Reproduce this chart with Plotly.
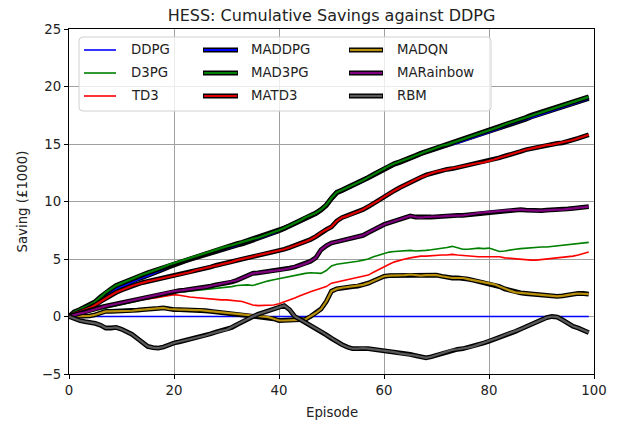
import plotly.graph_objects as go

# ---------------- data ----------------
episodes = list(range(100))
series_names = ["DDPG", "D3PG", "TD3", "MADDPG", "MAD3PG", "MATD3", "MADQN", "MARainbow", "RBM"]

ddpg = [0.0, 0.0, 0.0, 0.0, 0.0, 0.0, 0.0, 0.0, 0.0, 0.0,
        0.0, 0.0, 0.0, 0.0, 0.0, 0.0, 0.0, 0.0, 0.0, 0.0,
        0.0, 0.0, 0.0, 0.0, 0.0, 0.0, 0.0, 0.0, 0.0, 0.0,
        0.0, 0.0, 0.0, 0.0, 0.0, 0.0, 0.0, 0.0, 0.0, 0.0,
        0.0, 0.0, 0.0, 0.0, 0.0, 0.0, 0.0, 0.0, 0.0, 0.0,
        0.0, 0.0, 0.0, 0.0, 0.0, 0.0, 0.0, 0.0, 0.0, 0.0,
        0.0, 0.0, 0.0, 0.0, 0.0, 0.0, 0.0, 0.0, 0.0, 0.0,
        0.0, 0.0, 0.0, 0.0, 0.0, 0.0, 0.0, 0.0, 0.0, 0.0,
        0.0, 0.0, 0.0, 0.0, 0.0, 0.0, 0.0, 0.0, 0.0, 0.0,
        0.0, 0.0, 0.0, 0.0, 0.0, 0.0, 0.0, 0.0, 0.0, 0.0]

d3pg = [0.0, 0.1, 0.2, 0.3, 0.4, 0.5, 0.6, 0.7, 0.8, 0.9,
        1.0, 1.15, 1.25, 1.35, 1.5, 1.6, 1.7, 1.8, 1.9, 2.0,
        2.1, 2.15, 2.15, 2.2, 2.2, 2.25, 2.3, 2.35, 2.45, 2.5,
        2.55, 2.6, 2.7, 2.75, 2.75, 2.7, 2.85, 3.0, 3.1, 3.2,
        3.3, 3.4, 3.5, 3.6, 3.7, 3.75, 3.8, 3.75, 3.75, 4.0,
        4.4, 4.55, 4.6, 4.65, 4.7, 4.8, 4.9, 5.0, 5.2, 5.35,
        5.5, 5.6, 5.65, 5.7, 5.75, 5.75, 5.7, 5.7, 5.75, 5.8,
        5.85, 5.9, 6.0, 6.1, 5.95, 5.85, 5.85, 5.9, 5.95, 5.9,
        5.95, 5.8, 5.65, 5.7, 5.8, 5.85, 5.9, 5.95, 5.95, 6.0,
        6.05, 6.05, 6.1, 6.1, 6.15, 6.2, 6.25, 6.3, 6.4, 6.45]

td3 = [0.0, 0.1, 0.2, 0.3, 0.45, 0.55, 0.7, 0.8, 0.95, 1.05,
       1.15, 1.25, 1.3, 1.4, 1.45, 1.5, 1.6, 1.65, 1.75, 1.8,
       1.9, 1.85, 1.75, 1.7, 1.65, 1.6, 1.55, 1.55, 1.5, 1.45,
       1.45, 1.4, 1.35, 1.3, 1.15, 1.0, 0.95, 0.95, 0.95, 1.0,
       1.1, 1.25, 1.4, 1.6, 1.8, 2.0, 2.15, 2.3, 2.45, 2.6,
       2.9, 3.0, 3.15, 3.25, 3.35, 3.45, 3.5, 3.6, 3.85, 4.1,
       4.35, 4.55, 4.75, 4.9, 5.0, 5.1, 5.2, 5.25, 5.25, 5.3,
       5.3, 5.35, 5.35, 5.4, 5.35, 5.3, 5.3, 5.25, 5.2, 5.2,
       5.2, 5.15, 5.2, 5.1, 5.05, 5.0, 5.0, 4.95, 4.9, 4.9,
       4.95, 5.0, 5.0, 5.05, 5.1, 5.15, 5.25, 5.35, 5.5, 5.6]

maddpg = [0.0, 0.3, 0.5, 0.7, 0.9, 1.1, 1.45, 1.8, 2.1, 2.4,
          2.6, 2.85, 3.05, 3.25, 3.4, 3.55, 3.75, 3.9, 4.1, 4.3,
          4.5, 4.65, 4.8, 4.95, 5.1, 5.25, 5.4, 5.55, 5.65, 5.8,
          5.95, 6.05, 6.2, 6.3, 6.45, 6.6, 6.75, 6.9, 7.05, 7.25,
          7.45, 7.65, 7.85, 8.05, 8.3, 8.55, 8.75, 8.95, 9.25, 9.65,
          10.25, 10.75, 10.95, 11.15, 11.35, 11.55, 11.8, 12.05, 12.3, 12.55,
          12.85, 13.05, 13.25, 13.4, 13.55, 13.75, 13.95, 14.15, 14.3, 14.45,
          14.6, 14.75, 14.85, 15.0, 15.1, 15.25, 15.4, 15.55, 15.75, 15.9,
          16.05, 16.2, 16.35, 16.55, 16.7, 16.85, 17.0, 17.15, 17.35, 17.5,
          17.65, 17.8, 17.95, 18.1, 18.25, 18.35, 18.5, 18.65, 18.8, 18.95]

mad3pg = [0.0, 0.4, 0.6, 0.8, 1.0, 1.3, 1.7, 2.1, 2.4, 2.7,
          2.9, 3.1, 3.3, 3.5, 3.65, 3.8, 3.95, 4.1, 4.3, 4.5,
          4.65, 4.8, 4.9, 5.05, 5.2, 5.35, 5.5, 5.65, 5.8, 5.95,
          6.1, 6.2, 6.35, 6.45, 6.6, 6.75, 6.85, 7.0, 7.15, 7.3,
          7.5, 7.7, 7.9, 8.1, 8.35, 8.6, 8.8, 9.0, 9.3, 9.7,
          10.3, 10.8, 11.0, 11.2, 11.4, 11.6, 11.85, 12.1, 12.35, 12.6,
          12.9, 13.1, 13.3, 13.45, 13.6, 13.8, 14.0, 14.2, 14.35, 14.5,
          14.7, 14.85, 14.95, 15.1, 15.25, 15.4, 15.55, 15.7, 15.9, 16.05,
          16.2, 16.35, 16.5, 16.7, 16.85, 17.0, 17.15, 17.3, 17.5, 17.65,
          17.8, 17.95, 18.1, 18.25, 18.4, 18.5, 18.65, 18.8, 18.95, 19.1]

matd3 = [0.0, 0.25, 0.4, 0.55, 0.75, 1.0, 1.3, 1.6, 1.85, 2.1,
         2.3, 2.5, 2.65, 2.8, 2.95, 3.05, 3.15, 3.25, 3.35, 3.4,
         3.5, 3.6, 3.75, 3.85, 4.0, 4.1, 4.2, 4.3, 4.45, 4.55,
         4.65, 4.75, 4.9, 5.0, 5.1, 5.2, 5.3, 5.4, 5.5, 5.6,
         5.75, 5.85, 6.0, 6.15, 6.3, 6.5, 6.7, 6.95, 7.3, 7.55,
         7.8, 8.3, 8.6, 8.75, 8.9, 9.1, 9.3, 9.55, 9.85, 10.1,
         10.4, 10.7, 10.95, 11.2, 11.45, 11.7, 11.9, 12.1, 12.3, 12.45,
         12.6, 12.7, 12.8, 12.85, 12.95, 13.1, 13.15, 13.25, 13.35, 13.4,
         13.5, 13.65, 13.8, 13.95, 14.05, 14.2, 14.35, 14.5, 14.6, 14.7,
         14.85, 14.9, 14.95, 15.05, 15.1, 15.2, 15.35, 15.5, 15.65, 15.8]

madqn = [0.0, 0.0, 0.0, 0.0, 0.05, 0.15, 0.3, 0.45, 0.45, 0.45,
         0.45, 0.5, 0.5, 0.55, 0.6, 0.6, 0.65, 0.7, 0.75, 0.65,
         0.6, 0.6, 0.6, 0.55, 0.55, 0.55, 0.5, 0.45, 0.4, 0.35,
         0.3, 0.3, 0.2, 0.15, 0.1, 0.05, 0.0, 0.0, -0.05, -0.2,
         -0.35, -0.35, -0.35, -0.35, -0.3, -0.25, 0.0, 0.3, 0.65, 1.3,
         2.2, 2.4, 2.5, 2.55, 2.6, 2.65, 2.75, 2.9, 3.1, 3.3,
         3.5, 3.55, 3.55, 3.6, 3.6, 3.65, 3.6, 3.55, 3.6, 3.6,
         3.6, 3.5, 3.4, 3.35, 3.35, 3.35, 3.25, 3.15, 3.05, 3.0,
         2.9, 2.8, 2.6, 2.4, 2.25, 2.1, 2.05, 2.0, 1.95, 1.95,
         1.9, 1.85, 1.8, 1.75, 1.8, 1.9, 1.95, 2.0, 2.0, 1.95]

marainbow = [0.0, 0.15, 0.25, 0.35, 0.5, 0.65, 0.8, 0.9, 1.0, 1.1,
             1.2, 1.3, 1.45, 1.55, 1.65, 1.75, 1.85, 1.95, 2.05, 2.15,
             2.2, 2.25, 2.3, 2.35, 2.4, 2.45, 2.55, 2.65, 2.75, 2.8,
             2.9, 3.0, 3.15, 3.35, 3.55, 3.75, 3.8, 3.85, 3.9, 3.95,
             4.0, 4.1, 4.2, 4.3, 4.45, 4.6, 4.8, 5.1, 5.8, 6.15,
             6.4, 6.5, 6.6, 6.7, 6.8, 6.9, 7.05, 7.3, 7.55, 7.8,
             8.0, 8.15, 8.3, 8.4, 8.55, 8.75, 8.65, 8.6, 8.65, 8.65,
             8.7, 8.7, 8.75, 8.75, 8.8, 8.8, 8.85, 8.95, 9.0, 9.05,
             9.1, 9.15, 9.2, 9.2, 9.25, 9.25, 9.3, 9.25, 9.2, 9.2,
             9.2, 9.25, 9.25, 9.3, 9.3, 9.35, 9.4, 9.45, 9.5, 9.55]

rbm = [0.0, -0.2, -0.35, -0.45, -0.5, -0.6, -0.75, -1.0, -1.0, -0.95,
       -1.1, -1.3, -1.55, -1.9, -2.25, -2.6, -2.7, -2.75, -2.65, -2.45,
       -2.3, -2.2, -2.1, -2.0, -1.85, -1.75, -1.65, -1.5, -1.35, -1.25,
       -1.15, -0.95, -0.7, -0.45, -0.2, 0.0, 0.2, 0.35, 0.5, 0.6,
       0.75, 0.95, 0.6, 0.0, -0.25, -0.5, -0.75, -1.0, -1.3, -1.6,
       -1.9, -2.2, -2.45, -2.65, -2.8, -2.8, -2.75, -2.8, -2.85, -2.9,
       -2.95, -3.0, -3.1, -3.2, -3.25, -3.3, -3.4, -3.5, -3.6, -3.5,
       -3.35, -3.2, -3.05, -2.9, -2.85, -2.8, -2.7, -2.6, -2.45, -2.3,
       -2.15, -2.0, -1.8, -1.6, -1.45, -1.3, -1.1, -0.9, -0.7, -0.45,
       -0.25, -0.1, 0.0, -0.05, -0.3, -0.6, -0.85, -1.0, -1.2, -1.4]

x_ticks = [0, 20, 40, 60, 80, 100]
y_ticks = [-5, 0, 5, 10, 15, 20, 25]

# ---------------- styles ----------------
all_values = [ddpg, d3pg, td3, maddpg, mad3pg, matd3, madqn, marainbow, rbm]
colors = ["#0000ff", "#008000", "#ff0000", "#0000ff", "#008000", "#e00000",
          "#b8900b", "#800080", "#5a5a5a"]
outlined = [False, False, False, True, True, True, True, True, True]

W, H = 620, 427
ML, MR, MT, MB = 69, 26, 29, 53
PW = W - ML - MR
PH = H - MT - MB
FONT = "DejaVu Sans"


def px2x(px):
    return (px - ML) / PW


def py2y(py):
    return (H - MB - py) / PH


fig = go.Figure()
for name, vals, col, outl in zip(series_names, all_values, colors, outlined):
    if outl:
        fig.add_trace(go.Scatter(x=episodes, y=vals, mode="lines",
                                 line=dict(color="black", width=4.8),
                                 showlegend=False, hoverinfo="skip"))
        fig.add_trace(go.Scatter(x=episodes, y=vals, mode="lines", name=name,
                                 line=dict(color=col, width=2.2),
                                 showlegend=False))
    else:
        fig.add_trace(go.Scatter(x=episodes, y=vals, mode="lines", name=name,
                                 line=dict(color=col, width=1.6),
                                 showlegend=False))

# ---------------- manual legend ----------------
shapes = []
annotations = []
bx0, bx1, by0, by1 = px2x(79), px2x(491), py2y(111), py2y(37)
rx, ry = 4 / PW, 4 / PH
path = (f"M {bx0+rx},{by1} L {bx1-rx},{by1} Q {bx1},{by1} {bx1},{by1-ry} "
        f"L {bx1},{by0+ry} Q {bx1},{by0} {bx1-rx},{by0} L {bx0+rx},{by0} "
        f"Q {bx0},{by0} {bx0},{by0+ry} L {bx0},{by1-ry} Q {bx0},{by1} {bx0+rx},{by1} Z")
shapes.append(dict(type="path", path=path, xref="paper", yref="paper",
                   fillcolor="rgba(255,255,255,0.8)",
                   line=dict(color="#d0d0d0", width=1), layer="above"))

col_handles = [(84, 116, 129), (203, 238, 249), (349, 383, 395)]
row_y = [50, 73, 96]
for i, (name, col, outl) in enumerate(zip(series_names, colors, outlined)):
    c, r = divmod(i, 3)
    hx0, hx1, tx = col_handles[c]
    yy = py2y(row_y[r])
    if outl:
        shapes.append(dict(type="line", xref="paper", yref="paper",
                           x0=px2x(hx0), x1=px2x(hx1), y0=yy, y1=yy,
                           line=dict(color="black", width=4.8), layer="above"))
        shapes.append(dict(type="line", xref="paper", yref="paper",
                           x0=px2x(hx0 + 1), x1=px2x(hx1 - 1), y0=yy, y1=yy,
                           line=dict(color=col, width=2.2), layer="above"))
    else:
        shapes.append(dict(type="line", xref="paper", yref="paper",
                           x0=px2x(hx0), x1=px2x(hx1), y0=yy, y1=yy,
                           line=dict(color=col, width=1.6), layer="above"))
    annotations.append(dict(text=name, xref="paper", yref="paper",
                            x=px2x(tx), y=yy, xanchor="left", yanchor="middle",
                            showarrow=False,
                            font=dict(family=FONT, size=13.3, color="#222")))

# axis titles
annotations.append(dict(text="Episode", xref="paper", yref="paper",
                        x=0.5, y=py2y(412), xanchor="center", yanchor="middle",
                        showarrow=False, font=dict(family=FONT, size=13.3, color="#222")))
annotations.append(dict(text="Saving (£1000)", xref="paper", yref="paper",
                        x=px2x(22), y=0.5, xanchor="center", yanchor="middle",
                        textangle=-90, showarrow=False,
                        font=dict(family=FONT, size=13.3, color="#222")))

axis_common = dict(showline=True, linecolor="black", linewidth=1.2, mirror=True,
                   ticks="outside", ticklen=4, tickwidth=1, tickcolor="black",
                   showgrid=True, gridcolor="#a0a0a0", gridwidth=1, zeroline=False,
                   tickfont=dict(family=FONT, size=13.3, color="#222"))

fig.update_layout(
    width=W, height=H, autosize=False,
    margin=dict(l=ML, r=MR, t=MT, b=MB),
    paper_bgcolor="white", plot_bgcolor="white",
    title=dict(text="HESS: Cumulative Savings against DDPG", x=0.5, xref="paper",
               xanchor="center", y=1 - 15 / H, yanchor="middle",
               font=dict(family=FONT, size=16, color="#222")),
    xaxis=dict(range=[0, 100], tickvals=x_ticks, **axis_common),
    yaxis=dict(range=[-5, 25], tickvals=y_ticks, **axis_common),
    shapes=shapes, annotations=annotations, showlegend=False,
)

fig.write_html("out.html", config={"displayModeBar": False},
               post_script="document.body.style.margin='0px';")
